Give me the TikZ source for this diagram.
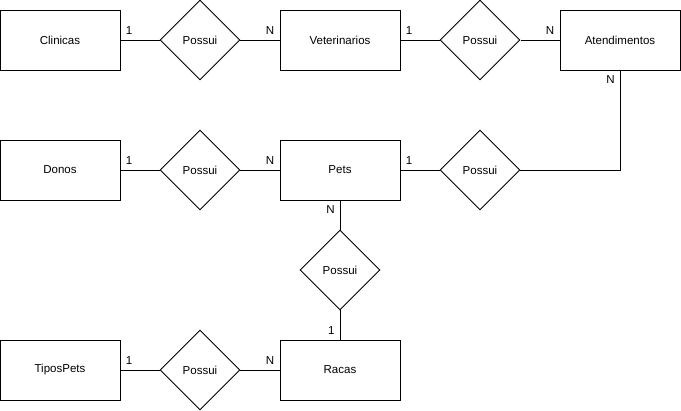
\documentclass[tikz,border=0pt]{standalone}
\usepackage{fontspec}
\setmainfont{Liberation Sans}
\usepackage{tikz}
\usetikzlibrary{shapes.geometric,calc}
\tikzset{entite/.style={
    draw, rectangle, minimum width=3cm, minimum height=1.5cm,
    inner sep=0pt, font=\fontsize{8.2}{10}\selectfont},
  relation/.style={
    draw, diamond, minimum width=2cm, minimum height=2cm,
    inner sep=0pt, font=\fontsize{8.2}{10}\selectfont},
  card/.style={inner sep=3.5pt, font=\fontsize{8.2}{10}\selectfont}}

\begin{document}
\begin{tikzpicture}[x=1cm,y=-1cm,line width=0.7pt]
  \useasboundingbox (0,0) rectangle (17.025,10.275);

  % entites
  \node[entite] (clinicas) at (1.5,1) {Clinicas};
  \node[entite] (veterinarios) at (8.5,1) {Veterinarios};
  \node[entite] (atendimentos) at (15.5,1) {Atendimentos};
  \node[entite] (donos) at (1.5,4.25) {Donos};
  \node[entite] (pets) at (8.5,4.25) {Pets};
  \node[entite] (tipospets) at (1.5,9.25) {TiposPets};
  \node[entite] (racas) at (8.5,9.25) {Racas};

  % relations
  \node[relation] (possuiA) at (5,1) {Possui};
  \node[relation] (possuiB) at (12,1) {Possui};
  \node[relation] (possuiC) at (5,4.25) {Possui};
  \node[relation] (possuiD) at (12,4.25) {Possui};
  \node[relation] (possuiE) at (8.5,6.75) {Possui};
  \node[relation] (possuiF) at (5,9.25) {Possui};

  % liens
  \draw (clinicas) -- node[card,pos=0,above right]{1} (possuiA);
  \draw (possuiA) -- node[card,pos=1,above left]{N} (veterinarios);
  \draw (veterinarios) -- node[card,pos=0,above right]{1} (possuiB);
  \draw (possuiB) -- node[card,pos=1,above left]{N} (atendimentos);
  \draw (donos) -- node[card,pos=0,above right]{1} (possuiC);
  \draw (possuiC) -- node[card,pos=1,above left]{N} (pets);
  \draw (pets) -- node[card,pos=0,above right]{1} (possuiD);
  \draw (possuiD) -| node[card,pos=1,below left]{N} (atendimentos);
  \draw (pets) -- node[card,pos=0,below left]{N} (possuiE);
  \draw (possuiE) -- node[card,pos=1,above left]{1} (racas);
  \draw (tipospets) -- node[card,pos=0,above right]{1} (possuiF);
  \draw (possuiF) -- node[card,pos=1,above left]{N} (racas);
\end{tikzpicture}
\end{document}
